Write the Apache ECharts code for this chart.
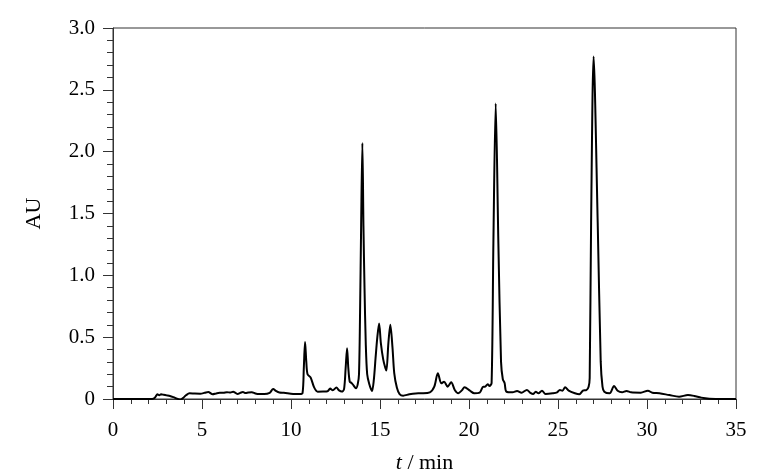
<!DOCTYPE html>
<html>
<head>
<meta charset="utf-8">
<script src="https://cdn.jsdelivr.net/npm/echarts@6/dist/echarts.min.js"></script>
<style>
  html, body { margin: 0; padding: 0; background: #fff; }
  #chart { width: 765px; height: 472px; }
</style>
</head>
<body>
<div id="chart"></div>
<script>
// retention time (min) and absorbance (AU)
const times = [
  0, 2.2, 2.35, 2.5, 2.6, 2.7, 2.85, 3.0, 3.2, 3.4, 3.6, 3.8, 3.95, 4.1, 4.3,
  4.6, 4.9, 5.15, 5.35, 5.6, 5.8, 6.0, 6.2, 6.4, 6.6, 6.75, 6.9, 7.0, 7.15, 7.3,
  7.45, 7.6, 7.8, 8.0, 8.2, 8.5, 8.8, 9.0, 9.15, 9.35, 9.6, 9.9, 10.2, 10.5, 10.65,
  10.72, 10.79, 10.86, 10.93, 11.1, 11.3, 11.5, 11.8, 12.05, 12.2, 12.35, 12.55, 12.7, 12.85, 12.98,
  13.07, 13.15, 13.22, 13.3, 13.4, 13.5, 13.65, 13.75, 13.82, 13.88, 13.94, 14.01, 14.07, 14.13, 14.2,
  14.28, 14.4, 14.55, 14.65, 14.75, 14.85, 14.95, 15.05, 15.18, 15.3, 15.36, 15.47, 15.58, 15.7, 15.8,
  15.95, 16.1, 16.3, 16.65, 17.0, 17.3, 17.8, 18.05, 18.25, 18.45, 18.6, 18.8, 19.0, 19.2, 19.4,
  19.6, 19.75, 20.05, 20.3, 20.6, 20.8, 20.9, 21.05, 21.15, 21.27, 21.37, 21.5, 21.65, 21.8, 21.9,
  22.0, 22.1, 22.45, 22.7, 22.95, 23.25, 23.45, 23.6, 23.75, 23.9, 24.1, 24.3, 24.7, 24.95, 25.1,
  25.25, 25.4, 25.6, 25.95, 26.2, 26.4, 26.6, 26.72, 26.78, 26.86, 27.0, 27.23, 27.4, 27.5, 27.6,
  27.9, 28.15, 28.35, 28.6, 28.85, 29.1, 29.65, 30.05, 30.3, 30.7, 31.25, 31.8, 32.3, 32.65, 33.05,
  33.5, 34.25, 35
];
const absorbance = [
  0, 0, 0.01, 0.038, 0.03, 0.038, 0.034, 0.03, 0.025, 0.015, 0.003, -0.005, 0.01, 0.03, 0.046,
  0.044, 0.043, 0.05, 0.057, 0.038, 0.045, 0.05, 0.05, 0.055, 0.052, 0.058, 0.048, 0.04, 0.05, 0.056,
  0.048, 0.052, 0.055, 0.045, 0.04, 0.04, 0.05, 0.081, 0.065, 0.052, 0.05, 0.045, 0.04, 0.04, 0.05,
  0.25, 0.46, 0.3, 0.2, 0.175, 0.094, 0.059, 0.06, 0.062, 0.084, 0.07, 0.092, 0.07, 0.06, 0.08,
  0.25, 0.41, 0.25, 0.14, 0.13, 0.113, 0.086, 0.12, 0.2, 0.7, 1.4, 2.07, 1.4, 0.9, 0.45,
  0.2, 0.12, 0.065, 0.15, 0.33, 0.5, 0.61, 0.45, 0.32, 0.25, 0.23, 0.45, 0.6, 0.42, 0.21,
  0.09, 0.04, 0.027, 0.038, 0.045, 0.046, 0.054, 0.1, 0.208, 0.127, 0.14, 0.1, 0.135, 0.073, 0.046,
  0.07, 0.095, 0.067, 0.046, 0.051, 0.1, 0.1, 0.119, 0.105, 0.13, 1.26, 2.39, 1.26, 0.3, 0.16,
  0.13, 0.06, 0.054, 0.065, 0.051, 0.073, 0.05, 0.04, 0.059, 0.046, 0.067, 0.04, 0.046, 0.054, 0.073,
  0.067, 0.095, 0.067, 0.046, 0.038, 0.067, 0.073, 0.1, 0.17, 1.43, 2.77, 1.43, 0.3, 0.1, 0.059,
  0.046, 0.105, 0.067, 0.054, 0.065, 0.054, 0.051, 0.067, 0.051, 0.046, 0.032, 0.019, 0.032, 0.025, 0.011,
  0.003, 0, 0
];
const xTicks = [0, 5, 10, 15, 20, 25, 30, 35];
const yTicks = [0, 0.5, 1.0, 1.5, 2.0, 2.5, 3.0];

const serif = '"Liberation Serif", "Times New Roman", serif';
const axisColor = '#333';

const chart = echarts.init(document.getElementById('chart'));
const option = {
  animation: false,
  grid: {
    left: 113,
    right: 29,
    top: 28,
    bottom: 73,
    outerBoundsMode: 'none',
    containLabel: false,
    show: true,
    borderColor: axisColor,
    borderWidth: 1
  },
  xAxis: {
    type: 'value',
    min: xTicks[0],
    max: xTicks[xTicks.length - 1],
    interval: 5,
    name: '{i|t} / min',
    nameLocation: 'middle',
    nameGap: 53,
    nameTextStyle: {
      fontFamily: serif,
      fontSize: 22,
      color: '#000',
      rich: { i: { fontFamily: serif, fontSize: 22, fontStyle: 'italic', color: '#000' } }
    },
    axisLine: { show: true, onZero: false, lineStyle: { color: axisColor, width: 1 } },
    axisTick: { show: true, inside: false, length: 10, lineStyle: { color: axisColor } },
    minorTick: { show: true, splitNumber: 5, length: 5, lineStyle: { color: axisColor } },
    splitLine: { show: false },
    axisLabel: { fontFamily: serif, fontSize: 21, color: '#000', margin: 21 }
  },
  yAxis: {
    type: 'value',
    min: yTicks[0],
    max: yTicks[yTicks.length - 1],
    interval: 0.5,
    name: 'AU',
    nameLocation: 'middle',
    nameGap: 68,
    nameTextStyle: { fontFamily: serif, fontSize: 22, color: '#000' },
    axisLine: { show: true, onZero: false, lineStyle: { color: axisColor, width: 1 } },
    axisTick: { show: true, inside: false, length: 10, lineStyle: { color: axisColor } },
    minorTick: { show: true, splitNumber: 5, length: 6, lineStyle: { color: axisColor } },
    splitLine: { show: false },
    axisLabel: {
      fontFamily: serif,
      fontSize: 21,
      color: '#000',
      margin: 18,
      formatter: v => (v === 0 ? '0' : v.toFixed(1))
    }
  },
  series: [{
    type: 'line',
    data: times.map((t, i) => [t, absorbance[i]]),
    showSymbol: false,
    smooth: 0.3,
    lineStyle: { color: '#000', width: 2 }
  }]
};
chart.setOption(option);
</script>
</body>
</html>
